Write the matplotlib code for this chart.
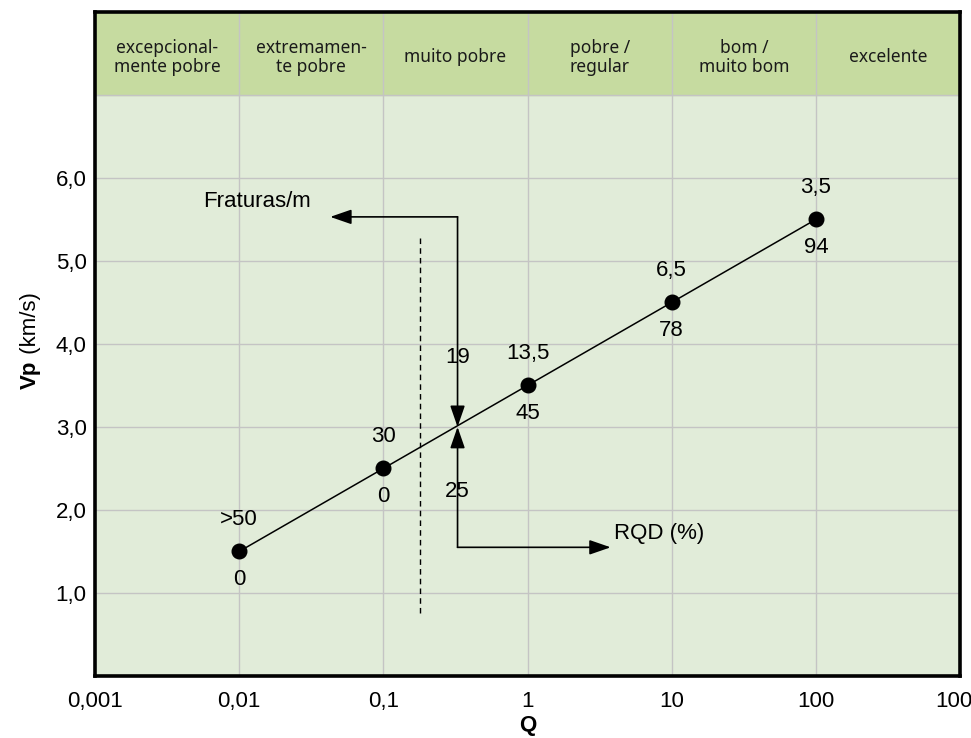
import numpy as np
import matplotlib.pyplot as plt

# data
q = [0.01, 0.1, 1, 10, 100]
vp = [1.5, 2.5, 3.5, 4.5, 5.5]
frat_labels = ['>50', '30', '13,5', '6,5', '3,5']
rqd_labels = ['0', '0', '45', '78', '94']
classes = ['excepcional-\nmente pobre', 'extremamen-\nte pobre', 'muito pobre',
           'pobre /\nregular', 'bom /\nmuito bom', 'excelente']
class_bounds = [0.001, 0.01, 0.1, 1, 10, 100, 1000]
xticks = [0.001, 0.01, 0.1, 1, 10, 100, 1000]
xtick_labels = ['0,001', '0,01', '0,1', '1', '10', '100', '1000']
yticks = [1, 2, 3, 4, 5, 6]
ytick_labels = ['1,0', '2,0', '3,0', '4,0', '5,0', '6,0']

# example reading: Q ~ 0.33 -> Vp 3.0
q_ex = 0.327
vp_ex = 3.0
frat_ex = '19'
rqd_ex = '25'

plt.rcParams['font.family'] = ['Liberation Sans', 'DejaVu Sans']
fs = 16

fig = plt.figure(figsize=(9.71, 7.38), dpi=100)
ax = fig.add_axes([0.0978, 0.084, 0.891, 0.9])
ax.set_xscale('log')
ax.set_xlim(0.001, 1000)
ax.set_ylim(0, 8)

body = '#e1ecd9'
head = '#c6dba0'
grid = '#c4c4c4'
ax.set_facecolor(body)
ax.axhspan(7, 8, color=head, zorder=0)

for xv in xticks[1:-1]:
    ax.axvline(xv, color=grid, lw=1, zorder=1)
for yv in yticks + [7]:
    ax.axhline(yv, color=grid, lw=1, zorder=1)

for i, c in enumerate(classes):
    xc = np.sqrt(class_bounds[i] * class_bounds[i + 1])
    ax.text(xc, 7.45, c, ha='center', va='center', fontsize=12.5,
            family=['Noto Sans', 'DejaVu Sans'], linespacing=1.1, color='#1a1a1a')

# main line and points
ax.plot(q, vp, color='black', lw=1.1, zorder=3)
ax.plot(q, vp, 'o', color='black', ms=10.5, zorder=4)
for x, y, a, b in zip(q, vp, frat_labels, rqd_labels):
    ax.text(x, y + 0.38, a, ha='center', va='center', fontsize=fs)
    ax.text(x, y - 0.34, b, ha='center', va='center', fontsize=fs)

# dashed boundary
ax.plot([0.18, 0.18], [0.76, 5.32], color='black', lw=1, ls=(0, (4, 3)), zorder=3)

# arrows: fraturas (up-left) and RQD (down-right)
ap = dict(arrowstyle='-|>,head_length=1.3,head_width=0.45', color='black', lw=1.2,
          shrinkA=0, shrinkB=0)
ax.annotate('', xy=(q_ex, vp_ex), xytext=(q_ex, 5.53), arrowprops=ap, zorder=3)
ax.annotate('', xy=(0.0428, 5.53), xytext=(q_ex, 5.53), arrowprops=ap, zorder=3)
ax.text(0.0133, 5.71, 'Fraturas/m', ha='center', va='center', fontsize=fs)
ax.text(q_ex, 3.84, frat_ex, ha='center', va='center', fontsize=fs)

ax.annotate('', xy=(q_ex, vp_ex), xytext=(q_ex, 1.55), arrowprops=ap, zorder=3)
ax.annotate('', xy=(3.77, 1.55), xytext=(q_ex, 1.55), arrowprops=ap, zorder=3)
ax.text(3.95, 1.72, 'RQD (%)', ha='left', va='center', fontsize=fs)
ax.text(q_ex, 2.22, rqd_ex, ha='center', va='center', fontsize=fs)

ax.set_xticks(xticks)
ax.set_xticklabels(xtick_labels, fontsize=fs)
ax.xaxis.set_minor_locator(plt.NullLocator())
ax.set_yticks(yticks)
ax.set_yticklabels(ytick_labels, fontsize=fs)
ax.tick_params(axis='x', length=0, pad=11)
ax.tick_params(axis='y', length=0, pad=6)
for s in ax.spines.values():
    s.set_linewidth(2.6)
    s.set_color('black')

ax.set_xlabel('Q', fontsize=fs, fontweight='bold', labelpad=2)
fig.text(0.031, 0.512, ' (km/s)', rotation=90, ha='center', va='bottom', fontsize=fs)
fig.text(0.031, 0.512, 'Vp', rotation=90, ha='center', va='top', fontsize=fs, fontweight='bold')

fig.savefig('out.png', dpi=100, facecolor='white')
